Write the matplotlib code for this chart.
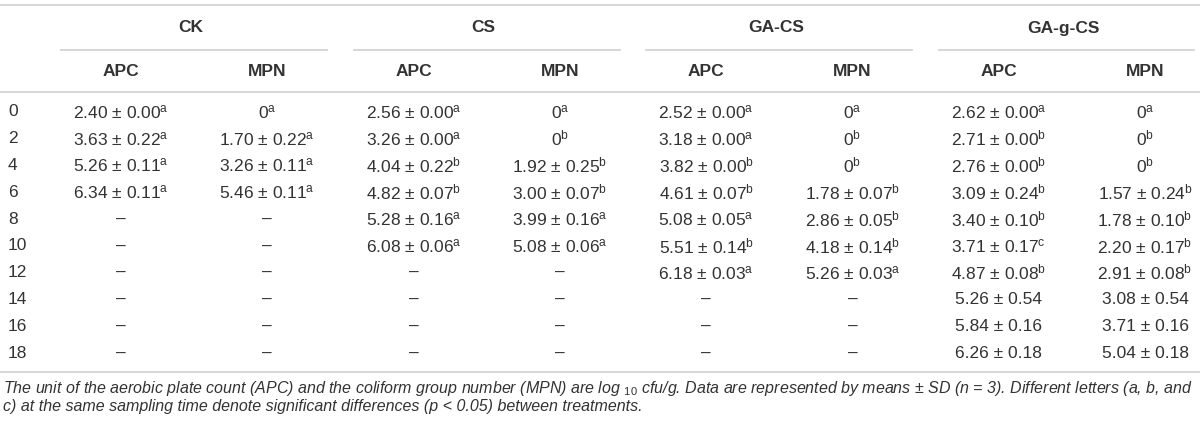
import matplotlib
matplotlib.use("Agg")
import matplotlib.pyplot as plt

plt.rcParams['font.family'] = ['Liberation Sans', 'DejaVu Sans']
plt.rcParams['mathtext.fontset'] = 'custom'
plt.rcParams['mathtext.rm'] = 'Liberation Sans'
plt.rcParams['mathtext.it'] = 'Liberation Sans:italic'

# sampling times (days)
times = [0, 2, 4, 6, 8, 10, 12, 14, 16, 18]
groups = ['CK', 'CS', 'GA-CS', 'GA-g-CS']
subcols = ['APC', 'MPN']

# CK
ck_apc = [2.40, 3.63, 5.26, 6.34]
ck_apc_sd = [0.00, 0.22, 0.11, 0.11]
ck_apc_sig = ['a', 'a', 'a', 'a']
ck_mpn = [0, 1.70, 3.26, 5.46]
ck_mpn_sd = [None, 0.22, 0.11, 0.11]
ck_mpn_sig = ['a', 'a', 'a', 'a']

# CS
cs_apc = [2.56, 3.26, 4.04, 4.82, 5.28, 6.08]
cs_apc_sd = [0.00, 0.00, 0.22, 0.07, 0.16, 0.06]
cs_apc_sig = ['a', 'a', 'b', 'b', 'a', 'a']
cs_mpn = [0, 0, 1.92, 3.00, 3.99, 5.08]
cs_mpn_sd = [None, None, 0.25, 0.07, 0.16, 0.06]
cs_mpn_sig = ['a', 'b', 'b', 'b', 'a', 'a']

# GA-CS
gacs_apc = [2.52, 3.18, 3.82, 4.61, 5.08, 5.51, 6.18]
gacs_apc_sd = [0.00, 0.00, 0.00, 0.07, 0.05, 0.14, 0.03]
gacs_apc_sig = ['a', 'a', 'b', 'b', 'a', 'b', 'a']
gacs_mpn = [0, 0, 0, 1.78, 2.86, 4.18, 5.26]
gacs_mpn_sd = [None, None, None, 0.07, 0.05, 0.14, 0.03]
gacs_mpn_sig = ['a', 'b', 'b', 'b', 'b', 'b', 'a']

# GA-g-CS
gagcs_apc = [2.62, 2.71, 2.76, 3.09, 3.40, 3.71, 4.87, 5.26, 5.84, 6.26]
gagcs_apc_sd = [0.00, 0.00, 0.00, 0.24, 0.10, 0.17, 0.08, 0.54, 0.16, 0.18]
gagcs_apc_sig = ['a', 'b', 'b', 'b', 'b', 'c', 'b', '', '', '']
gagcs_mpn = [0, 0, 0, 1.57, 1.78, 2.20, 2.91, 3.08, 3.71, 5.04]
gagcs_mpn_sd = [None, None, None, 0.24, 0.10, 0.17, 0.08, 0.54, 0.16, 0.18]
gagcs_mpn_sig = ['a', 'b', 'b', 'b', 'b', 'b', 'b', '', '', '']

columns = [
    (ck_apc, ck_apc_sd, ck_apc_sig), (ck_mpn, ck_mpn_sd, ck_mpn_sig),
    (cs_apc, cs_apc_sd, cs_apc_sig), (cs_mpn, cs_mpn_sd, cs_mpn_sig),
    (gacs_apc, gacs_apc_sd, gacs_apc_sig), (gacs_mpn, gacs_mpn_sd, gacs_mpn_sig),
    (gagcs_apc, gagcs_apc_sd, gagcs_apc_sig), (gagcs_mpn, gagcs_mpn_sd, gagcs_mpn_sig),
]

caption1 = ("The unit of the aerobic plate count (APC) and the coliform group number (MPN) are log $_{\\mathit{10}}$ "
            "cfu/g. Data are represented by means \u00b1 SD (n = 3). Different letters (a, b, and")
caption2 = ("c) at the same sampling time denote significant differences (p < 0.05) between treatments.")


def cell(mean, sd, sig):
    if sd is None:
        s = '%g' % mean
    else:
        s = '%.2f \u00b1 %.2f' % (mean, sd)
    if sig:
        s += '$^{\\mathregular{%s}}$' % sig
    return s


fig = plt.figure(figsize=(12, 4.24), dpi=100)
ax = fig.add_axes([0, 0, 1, 1])
ax.set_xlim(0, 1200)
ax.set_ylim(424, 0)
ax.axis('off')

txt = '#333333'
line_c = '#d3d3d3'
fs = 12.5

# layout
x0 = 121
dx = 146.3
row0 = 112
drow = 26.8

ax.plot([0, 1200], [5, 5], color=line_c, lw=1.3)
ax.plot([0, 1200], [92, 92], color=line_c, lw=1.3)
ax.plot([0, 1200], [372, 372], color=line_c, lw=1.3)

for g, name in enumerate(groups):
    xc = x0 + dx * (2 * g + 0.5)
    left, right = max(xc - 133, 0), min(xc + 133, 1194)
    ax.plot([left, right], [50, 50], color=line_c, lw=1.3)
    ax.text((left + right) / 2 - 3, 28, name, ha='center', va='center', fontsize=fs,
            fontweight='bold', color=txt)
    for k, sub in enumerate(subcols):
        ax.text(x0 + dx * (2 * g + k), 71, sub, ha='center', va='center',
                fontsize=fs, fontweight='bold', color=txt)

for i, t in enumerate(times):
    y = row0 + drow * i
    ax.text(8, y, str(t), ha='left', va='center', fontsize=fs, color=txt)
    for c, (m, s, l) in enumerate(columns):
        xc = x0 + dx * c
        if i < len(m):
            ax.text(xc, y, cell(m[i], s[i], l[i]), ha='center', va='center', fontsize=fs, color=txt)
        else:
            ax.text(xc, y, '\u2013', ha='center', va='center', fontsize=fs, color=txt)

ax.text(3, 389, caption1, ha='left', va='center', fontsize=11.5, style='italic', color=txt)
ax.text(3, 407, caption2, ha='left', va='center', fontsize=11.5, style='italic', color=txt)

fig.savefig('out.png', dpi=100)
